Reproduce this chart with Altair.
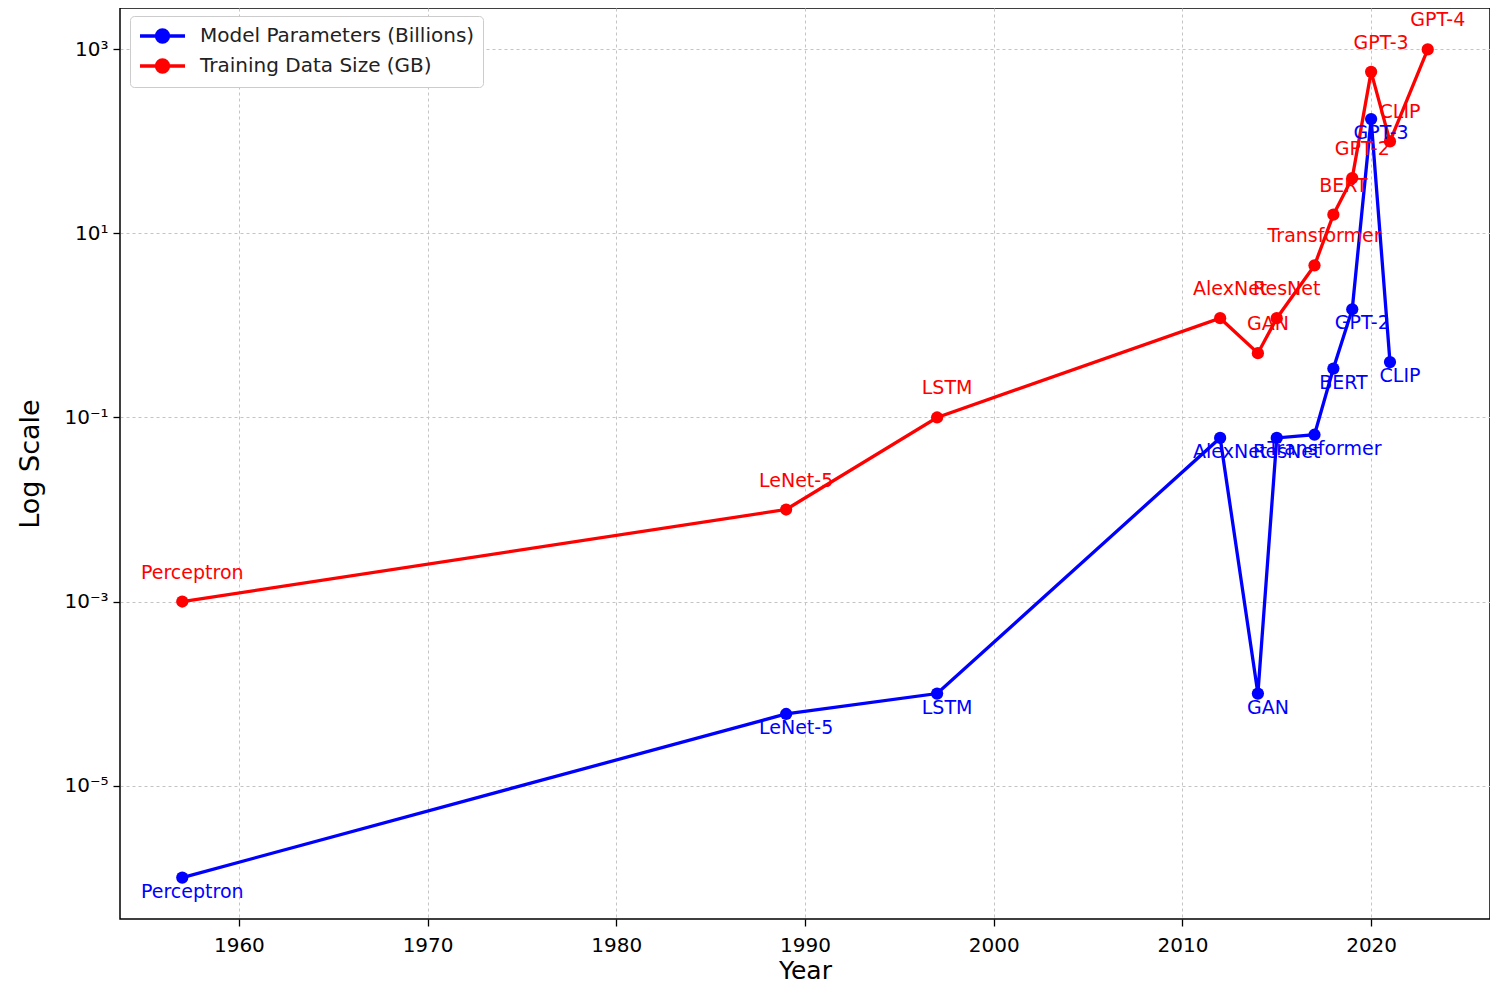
import altair as alt
import pandas as pd

models = ["Perceptron", "LeNet-5", "LSTM", "AlexNet", "GAN", "ResNet",
          "Transformer", "BERT", "GPT-2", "GPT-3", "CLIP", "GPT-4"]
years = [1957, 1989, 1997, 2012, 2014, 2015, 2017, 2018, 2019, 2020, 2021, 2023]
params_b = [1e-6, 6e-5, 1e-4, 0.06, 1e-4, 0.06, 0.065, 0.34, 1.5, 175, 0.4, None]
data_gb = [1e-3, 1e-2, 0.1, 1.2, 0.5, 1.2, 4.5, 16, 40, 570, 100, 1000]

S_PARAMS = "Model Parameters (Billions)"
S_DATA = "Training Data Size (GB)"

rows = []
for m, yr, p, d in zip(models, years, params_b, data_gb):
    if p is not None:
        rows.append({"model": m, "year": yr, "value": p, "series": S_PARAMS})
    rows.append({"model": m, "year": yr, "value": d, "series": S_DATA})
df = pd.DataFrame(rows)

FONT = "DejaVu Sans"
# line with a filled circle marker (unit = 10 px at symbolSize 400)
legend_path = ("M-1,0L3.5,0M0.65,0A0.6,0.6,0,1,1,1.85,0"
               "A0.6,0.6,0,1,1,0.65,0Z")

x = alt.X("year:Q",
          scale=alt.Scale(domain=[1953.7, 2026.3], nice=False, zero=False),
          axis=alt.Axis(values=[1960, 1970, 1980, 1990, 2000, 2010, 2020],
                        format="d", title="Year", titleFontSize=25,
                        titleFontWeight="normal", titleY=51,
                        titleBaseline="middle", labelPadding=9))
y = alt.Y("value:Q",
          scale=alt.Scale(type="log", domain=[10 ** -6.45, 10 ** 3.45], nice=False),
          axis=alt.Axis(values=[1e-5, 1e-3, 1e-1, 10, 1000],
                        labelExpr=("datum.value > 100 ? '10³' : datum.value > 1 ? '10¹' : "
                                   "datum.value > 0.01 ? '10⁻¹' : datum.value > 0.0001 ? '10⁻³' : '10⁻⁵'"),
                        title="Log Scale", titleFontSize=27, titleFontWeight="normal",
                        titleX=-90, titleBaseline="middle", labelPadding=5))
color = alt.Color("series:N",
                  scale=alt.Scale(domain=[S_PARAMS, S_DATA], range=["#0000ff", "#ff0000"]),
                  legend=alt.Legend(orient="none", legendX=10, legendY=8, title=None,
                                    symbolType=legend_path, symbolSize=400,
                                    symbolStrokeWidth=3.3, labelFontSize=20,
                                    labelOffset=38, labelLimit=0, fillColor="white",
                                    strokeColor="#cccccc", cornerRadius=4,
                                    padding=8, rowPadding=4, labelFont=FONT,
                                    labelColor="#222222"))

base = alt.Chart(df).encode(x=x, y=y, color=color)

lines = base.mark_line(strokeWidth=3.3)
points = base.mark_circle(size=150, opacity=1)
red_text = base.mark_text(dx=10, dy=-29, fontSize=19, font=FONT).encode(
    text="model:N").transform_filter(alt.datum.series == S_DATA)
blue_text = base.mark_text(dx=10, dy=14, fontSize=19, font=FONT).encode(
    text="model:N").transform_filter(alt.datum.series == S_PARAMS)

chart = alt.layer(lines, points, blue_text, red_text).properties(
    width=1370, height=911,
    autosize="none",
    padding={"left": 112, "top": 0, "right": 0, "bottom": 64},
).configure_axis(
    labelFont=FONT, titleFont=FONT, labelFontSize=20, labelColor="black",
    titleColor="black", tickColor="black", tickSize=7, tickWidth=1.3,
    domain=False, gridColor="#c4c4c4", gridDash=[3, 3], gridWidth=1,
).configure_view(stroke="black", strokeWidth=1.5)

chart.save("out.html", embed_options={"renderer": "svg", "actions": False})
